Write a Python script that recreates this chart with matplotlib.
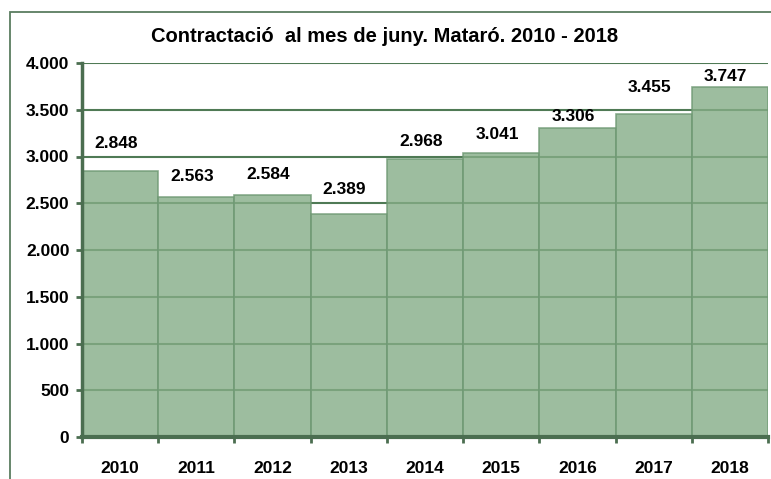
import matplotlib
matplotlib.use('Agg')
import matplotlib.pyplot as plt
import numpy as np
from matplotlib.patches import Rectangle
from matplotlib.ticker import FuncFormatter

plt.rcParams['font.family'] = ['Liberation Sans', 'DejaVu Sans']
plt.rcParams['font.weight'] = 'bold'

years = ['2010', '2011', '2012', '2013', '2014', '2015', '2016', '2017', '2018']
contractes = [2848, 2563, 2584, 2389, 2968, 3041, 3306, 3455, 3747]

# label heights above each bar (pixels), as placed in the original
label_dy = [20, 13, 13, 17, 10, 11, 4, 19, 3]

grid_col = '#4f7a55'
axis_col = '#4b6e50'

fig = plt.figure(figsize=(7.71, 4.79), dpi=100)
ax = fig.add_axes([82/771, 1 - 437/479, (768 - 82)/771, (437 - 63)/479])

x = np.arange(len(years))
ax.bar(x, contractes, width=1.0, color=(133/255, 173/255, 135/255), alpha=0.8,
       edgecolor='#6e9873', linewidth=1.2, zorder=2)

for xi, v, dy in zip(x, contractes, label_dy):
    txt = '{:,}'.format(v).replace(',', '.')
    ax.annotate(txt, (xi, v), xytext=(-3, dy * 0.72), textcoords='offset points',
                ha='center', va='bottom', fontsize=12.5, fontweight='bold')

ax.set_xlim(-0.5, len(years) - 0.5)
ax.set_ylim(0, 4000)
ax.set_yticks(np.arange(0, 4001, 500))
ax.yaxis.set_major_formatter(FuncFormatter(lambda v, p: '{:,}'.format(int(v)).replace(',', '.')))
ax.yaxis.grid(True, color=grid_col, linewidth=1.5, zorder=1)
ax.set_axisbelow(True)

ax.set_xticks(x)
ax.set_xticklabels(years)
ax.set_xticks(np.arange(-0.5, len(years), 1.0), minor=True)
ax.tick_params(axis='x', which='major', length=0, pad=17, labelsize=12.5)
ax.tick_params(axis='x', which='minor', length=4, width=2, color=axis_col, direction='out')
ax.tick_params(axis='y', length=4, width=2, color=axis_col, direction='out', labelsize=12.5, pad=5)
for lab in ax.get_xticklabels() + ax.get_yticklabels():
    lab.set_fontweight('bold')

for s in ['top', 'right']:
    ax.spines[s].set_visible(False)
ax.spines['left'].set_color(axis_col)
ax.spines['left'].set_linewidth(2.5)
ax.spines['bottom'].set_color(axis_col)
ax.spines['bottom'].set_linewidth(3)
ax.spines['bottom'].set_zorder(3)

fig.text(385/771, 1 - 37/479, 'Contractació  al mes de juny. Mataró. 2010 - 2018',
         ha='center', va='center', fontsize=14.5, fontweight='bold')

fig.patches.append(Rectangle((10/771, -0.1), 2.0, 1 - 12/479 + 0.1, transform=fig.transFigure,
                             fill=False, edgecolor='#5b7d60', linewidth=1.3))

fig.savefig('out.png', dpi=100)
